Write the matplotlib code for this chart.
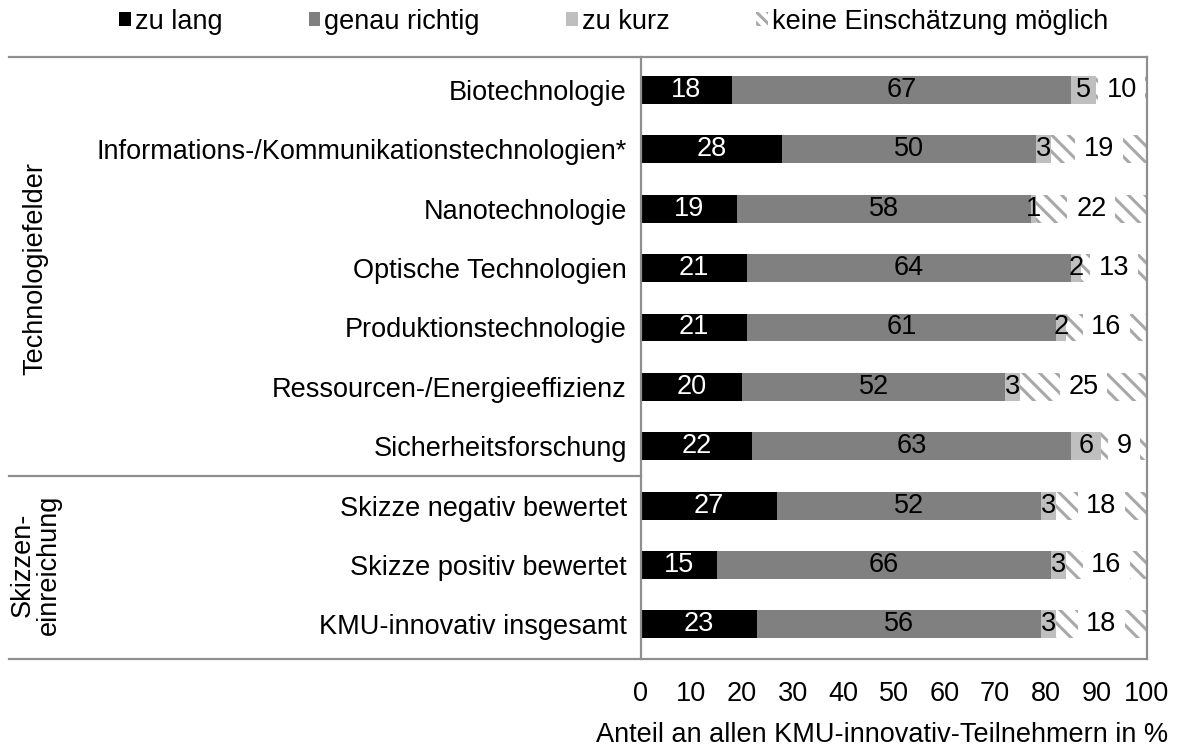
import numpy as np
import matplotlib.pyplot as plt
import matplotlib.transforms as mtransforms
from matplotlib.patches import Patch

categories = ['Biotechnologie',
              'Informations-/Kommunikationstechnologien*',
              'Nanotechnologie',
              'Optische Technologien',
              'Produktionstechnologie',
              'Ressourcen-/Energieeffizienz',
              'Sicherheitsforschung',
              'Skizze negativ bewertet',
              'Skizze positiv bewertet',
              'KMU-innovativ insgesamt']

zu_lang = [18, 28, 19, 21, 21, 20, 22, 27, 15, 23]
genau_richtig = [67, 50, 58, 64, 61, 52, 63, 52, 66, 56]
zu_kurz = [5, 3, 1, 2, 2, 3, 6, 3, 3, 3]
keine_einschaetzung = [10, 19, 22, 13, 16, 25, 9, 18, 16, 18]

series_names = ['zu lang', 'genau richtig', 'zu kurz',
                'keine Einschätzung möglich']

group_labels = ['Technologiefelder', 'Skizzen-\neinreichung']
group_centers = [3, 8]

x_ticks = list(range(0, 101, 10))
x_label = 'Anteil an allen KMU-innovativ-Teilnehmern in %'

FONT = 19.5
LINE_COLOR = '#8f8f8f'


def main():
    plt.rcParams['font.family'] = ['Liberation Sans', 'DejaVu Sans']
    plt.rcParams['hatch.linewidth'] = 2.2
    plt.rcParams['hatch.color'] = '#a8a8a8'

    fig = plt.figure(figsize=(11.8, 7.53), dpi=100)
    ax = fig.add_axes([0.543, 0.125, 0.429, 0.799])

    y = np.arange(len(categories))
    h = 0.47

    left = np.zeros(len(categories))
    data = [zu_lang, genau_richtig, zu_kurz, keine_einschaetzung]
    colors = ['#000000', '#808080', '#bfbfbf', 'white']
    hatches = [None, None, None, '\\\\']
    text_colors = ['white', 'black', 'black', 'black']

    handles = []
    for vals, name, col, hatch, tcol in zip(data, series_names, colors,
                                             hatches, text_colors):
        bars = ax.barh(y, vals, left=left, height=h, color=col,
                       hatch=hatch, linewidth=0, label=name)
        if hatch is None:
            ax.bar_label(bars, labels=[str(v) for v in vals],
                         label_type='center', color=tcol, fontsize=FONT)
            handles.append(Patch(facecolor=col, linewidth=0, label=name))
        else:
            ax.bar_label(bars, labels=[str(v) for v in vals],
                         label_type='center', color=tcol, fontsize=FONT,
                         bbox=dict(boxstyle='square,pad=0.32',
                                   facecolor='white', edgecolor='none'))
            handles.append(Patch(facecolor=col, hatch='\\\\\\',
                                 linewidth=0, label=name))
        left += np.array(vals)

    ax.set_xlim(0, 100)
    ax.set_ylim(9.58, -0.55)
    ax.set_xticks(x_ticks)
    ax.set_yticks(y)
    ax.set_yticklabels(categories)
    ax.tick_params(axis='both', length=0, labelsize=FONT)
    ax.tick_params(axis='y', pad=10)
    ax.tick_params(axis='x', pad=16)
    ax.set_xlabel(x_label, fontsize=FONT)
    ax.xaxis.set_label_coords((1168 / 1180 - 0.543) / 0.429, -0.105)
    ax.xaxis.label.set_horizontalalignment('right')

    for side in ['top', 'bottom']:
        ax.spines[side].set_visible(False)
    for side in ['left', 'right']:
        ax.spines[side].set_color(LINE_COLOR)
        ax.spines[side].set_linewidth(1.6)

    # frame lines reaching out to the left edge
    x0 = (9 / 1180 - 0.543) / 0.429
    ax.plot([x0, 1], [1, 1], transform=ax.transAxes, color=LINE_COLOR,
            lw=1.6, clip_on=False)
    ax.plot([x0, 1], [0, 0], transform=ax.transAxes, color=LINE_COLOR,
            lw=1.6, clip_on=False)
    ax.plot([x0, 0], [6.5, 6.5], transform=ax.get_yaxis_transform(),
            color=LINE_COLOR, lw=1.6, clip_on=False)

    trans = mtransforms.blended_transform_factory(fig.transFigure,
                                                  ax.transData)
    for lab, c in zip(group_labels, group_centers):
        fig.text(0.03, c, lab, transform=trans, rotation=90,
                 ha='center', va='center', fontsize=FONT,
                 multialignment='center', linespacing=1.0)

    fig.legend(handles=handles, loc='center', ncol=4,
               bbox_to_anchor=(0.52, 0.971), frameon=False, fontsize=FONT,
               handlelength=0.42, handleheight=0.42, handletextpad=0.15,
               columnspacing=3.2, borderaxespad=0)

    fig.savefig('out.png', dpi=100)


if __name__ == '__main__':
    main()
